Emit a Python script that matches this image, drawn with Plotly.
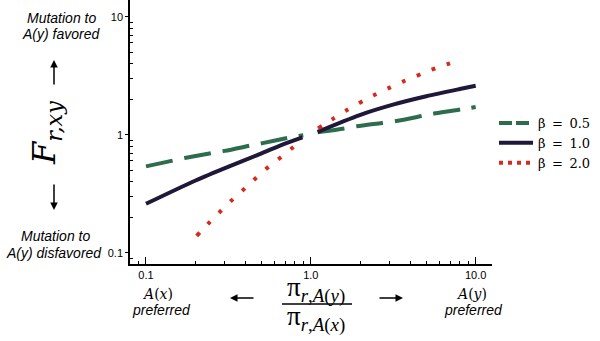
import plotly.graph_objects as go

# Fixation ratio F_{r,xy} against the preference ratio pi_{r,A(y)} / pi_{r,A(x)},
# for three values of beta. Each curve is drawn in two pieces either side of ratio = 1.
ratio_b05_lo = [0.1, 0.172, 0.25, 0.3, 0.43, 0.51, 0.75, 0.9]
F_b05_lo = [0.54, 0.635, 0.70, 0.73, 0.81, 0.85, 0.95, 0.99]
ratio_b05_hi = [1.1, 1.6, 1.9, 2.7, 3.3, 4.8, 5.7, 8.3, 10]
F_b05_hi = [1.05, 1.13, 1.18, 1.26, 1.31, 1.45, 1.52, 1.65, 1.72]

ratio_b10_lo = [0.1, 0.2, 0.32, 0.47, 0.65, 0.89]
F_b10_lo = [0.26, 0.41, 0.54, 0.67, 0.81, 0.95]
ratio_b10_hi = [1.1, 1.98, 3.15, 5.02, 8.0, 10]
F_b10_hi = [1.06, 1.47, 1.80, 2.12, 2.44, 2.6]

ratio_b20_lo = [0.203, 0.237, 0.277, 0.326, 0.384, 0.45, 0.531, 0.634, 0.753, 0.898]
F_b20_lo = [0.139, 0.175, 0.218, 0.273, 0.335, 0.413, 0.509, 0.619, 0.752, 0.914]
ratio_b20_hi = [1.107, 1.346, 1.63, 1.97, 2.41, 2.94, 3.59, 4.39, 5.41, 6.67, 8.23]
F_b20_hi = [1.133, 1.35, 1.6, 1.86, 2.16, 2.47, 2.81, 3.16, 3.56, 3.95, 4.32]

series_names = ["β\u2002=\u20020.5", "β\u2002=\u20021.0", "β\u2002=\u20022.0"]
x_tick_vals = [0.1, 1, 10]
x_tick_text = ["0.1", "1.0", "10.0"]
y_tick_vals = [0.1, 1, 10]
y_tick_text = ["0.1", "1", "10"]

GREEN = "#2e6c4e"
NAVY = "#1f1838"
RED = "#d42b1f"

SANS = "Liberation Sans, Arial, sans-serif"
SERIF = "DejaVu Serif, serif"
TIMES = "Liberation Serif, serif"

W, H = 600, 341
ML, MR, MT, MB = 130, 108, 0, 77
PW, PH = W - ML - MR, H - MT - MB


def px(x):
    return (x - ML) / PW


def py(y):
    return (H - MB - y) / PH


def joined(a, b):
    return list(a) + [None] + list(b)


fig = go.Figure()

styles = [
    (ratio_b05_lo, F_b05_lo, ratio_b05_hi, F_b05_hi, GREEN, "27px,12px", "13px,4px"),
    (ratio_b10_lo, F_b10_lo, ratio_b10_hi, F_b10_hi, NAVY, "solid", "solid"),
    (ratio_b20_lo, F_b20_lo, ratio_b20_hi, F_b20_hi, RED, "4px,12px", "4px,5px"),
]

for (xl, yl, xh, yh, col, dash, _), name in zip(styles, series_names):
    fig.add_trace(go.Scatter(
        x=joined(xl, xh), y=joined(yl, yh), mode="lines", name=name,
        line=dict(color=col, width=4, dash=dash, shape="spline", smoothing=0.8),
        connectgaps=False, showlegend=False, hoverinfo="skip",
    ))

# legend entries with a tighter dash pattern for the short sample lines
for (_, _, _, _, col, _, ldash), name in zip(styles, series_names):
    fig.add_trace(go.Scatter(
        x=[None], y=[None], mode="lines", name=name,
        line=dict(color=col, width=4, dash=ldash), showlegend=True,
    ))

x_minor = [0.09] + [k / 10 for k in range(2, 10)] + list(range(2, 10))
y_minor = [0.09] + [k / 10 for k in range(2, 10)] + list(range(2, 10))
x_range = [-1.097, 1.099]
y_range = [-1.095, 1.142]

axis_common = dict(type="log", showgrid=False, zeroline=False)

fig.update_layout(
    width=W, height=H,
    margin=dict(l=ML, r=MR, t=MT, b=MB),
    paper_bgcolor="white", plot_bgcolor="white",
    xaxis=dict(
        **axis_common, range=x_range, showline=True, linecolor="black", linewidth=1.5,
        ticks="inside", ticklen=7, tickwidth=1, tickcolor="black",
        tickvals=x_tick_vals, ticktext=x_tick_text,
        tickfont=dict(family=SANS, size=11, color="black"),
        minor=dict(ticks="inside", ticklen=3, tickwidth=1, tickcolor="black",
                   tickvals=x_minor, showgrid=False),
    ),
    xaxis2=dict(
        **axis_common, range=x_range, overlaying="x", anchor="y", side="bottom",
        showline=False, ticks="inside", ticklen=5, tickwidth=1, tickcolor="black",
        tickvals=[0.5, 5], showticklabels=False,
    ),
    yaxis=dict(
        **axis_common, range=y_range, showline=True, linecolor="black", linewidth=1.5,
        ticks="outside", ticklen=3, tickwidth=1, tickcolor="black",
        tickvals=y_tick_vals, ticktext=y_tick_text,
        tickfont=dict(family=SANS, size=11, color="black"),
        minor=dict(ticks="inside", ticklen=3, tickwidth=1, tickcolor="black",
                   tickvals=y_minor, showgrid=False),
    ),
    yaxis2=dict(
        **axis_common, range=y_range, overlaying="y", anchor="x", side="left",
        showline=False, ticks="inside", ticklen=7, tickwidth=1, tickcolor="black",
        tickvals=y_tick_vals, showticklabels=False,
    ),
    yaxis3=dict(
        **axis_common, range=y_range, overlaying="y", anchor="x", side="left",
        showline=False, ticks="inside", ticklen=5, tickwidth=1, tickcolor="black",
        tickvals=[0.5, 5], showticklabels=False,
    ),
    legend=dict(
        x=px(494), y=py(108), xanchor="left", yanchor="top",
        font=dict(family=SERIF, size=13, color="black"),
        bgcolor="rgba(0,0,0,0)", itemwidth=34, tracegroupgap=0,
    ),
    showlegend=True,
)

annotations = []


def label(text, x, y, size=14, family=SANS, angle=0):
    annotations.append(dict(
        text=text, x=px(x), y=py(y), xref="paper", yref="paper",
        xanchor="center", yanchor="middle", showarrow=False, textangle=angle,
        font=dict(family=family, size=size, color="black"),
    ))


def arrow(x_head, y_head, x_tail, y_tail):
    annotations.append(dict(
        text="", x=px(x_head), y=py(y_head), xref="paper", yref="paper",
        ax=x_tail - x_head, ay=y_tail - y_head, showarrow=True,
        arrowhead=2, arrowsize=1, arrowwidth=1.5, arrowcolor="black", standoff=0,
    ))


label("<i>Mutation to</i>", 61, 18)
label("<i>A(y) favored</i>", 60.5, 34)
label("<i>Mutation to</i>", 55.5, 236)
label("<i>A(y) disfavored</i>", 54, 253)
arrow(54, 60, 54, 86)
arrow(54, 210, 54, 183)

label("<i>F</i><sub><i>r,xy</i></sub>", 46, 133, size=32, family=SERIF, angle=-90)

label("π<sub><i>r</i>,<i>A</i>(<i>y</i>)</sub>", 316, 289, size=27, family=TIMES)
label("π<sub><i>r</i>,<i>A</i>(<i>x</i>)</sub>", 316, 318, size=27, family=TIMES)
arrow(230, 298, 255, 298)
arrow(403, 298, 378, 298)

label("<i>A</i>(<i>x</i>)", 157, 294, size=14, family=SERIF)
label("<i>preferred</i>", 161, 310)
label("<i>A</i>(<i>y</i>)", 471, 294, size=14, family=SERIF)
label("<i>preferred</i>", 473, 310)

fig.update_layout(annotations=annotations)
fig.add_shape(type="line", xref="paper", yref="paper",
              x0=px(282), x1=px(352), y0=py(304), y1=py(304),
              line=dict(color="black", width=1.5))

fig.write_html("out.html")
